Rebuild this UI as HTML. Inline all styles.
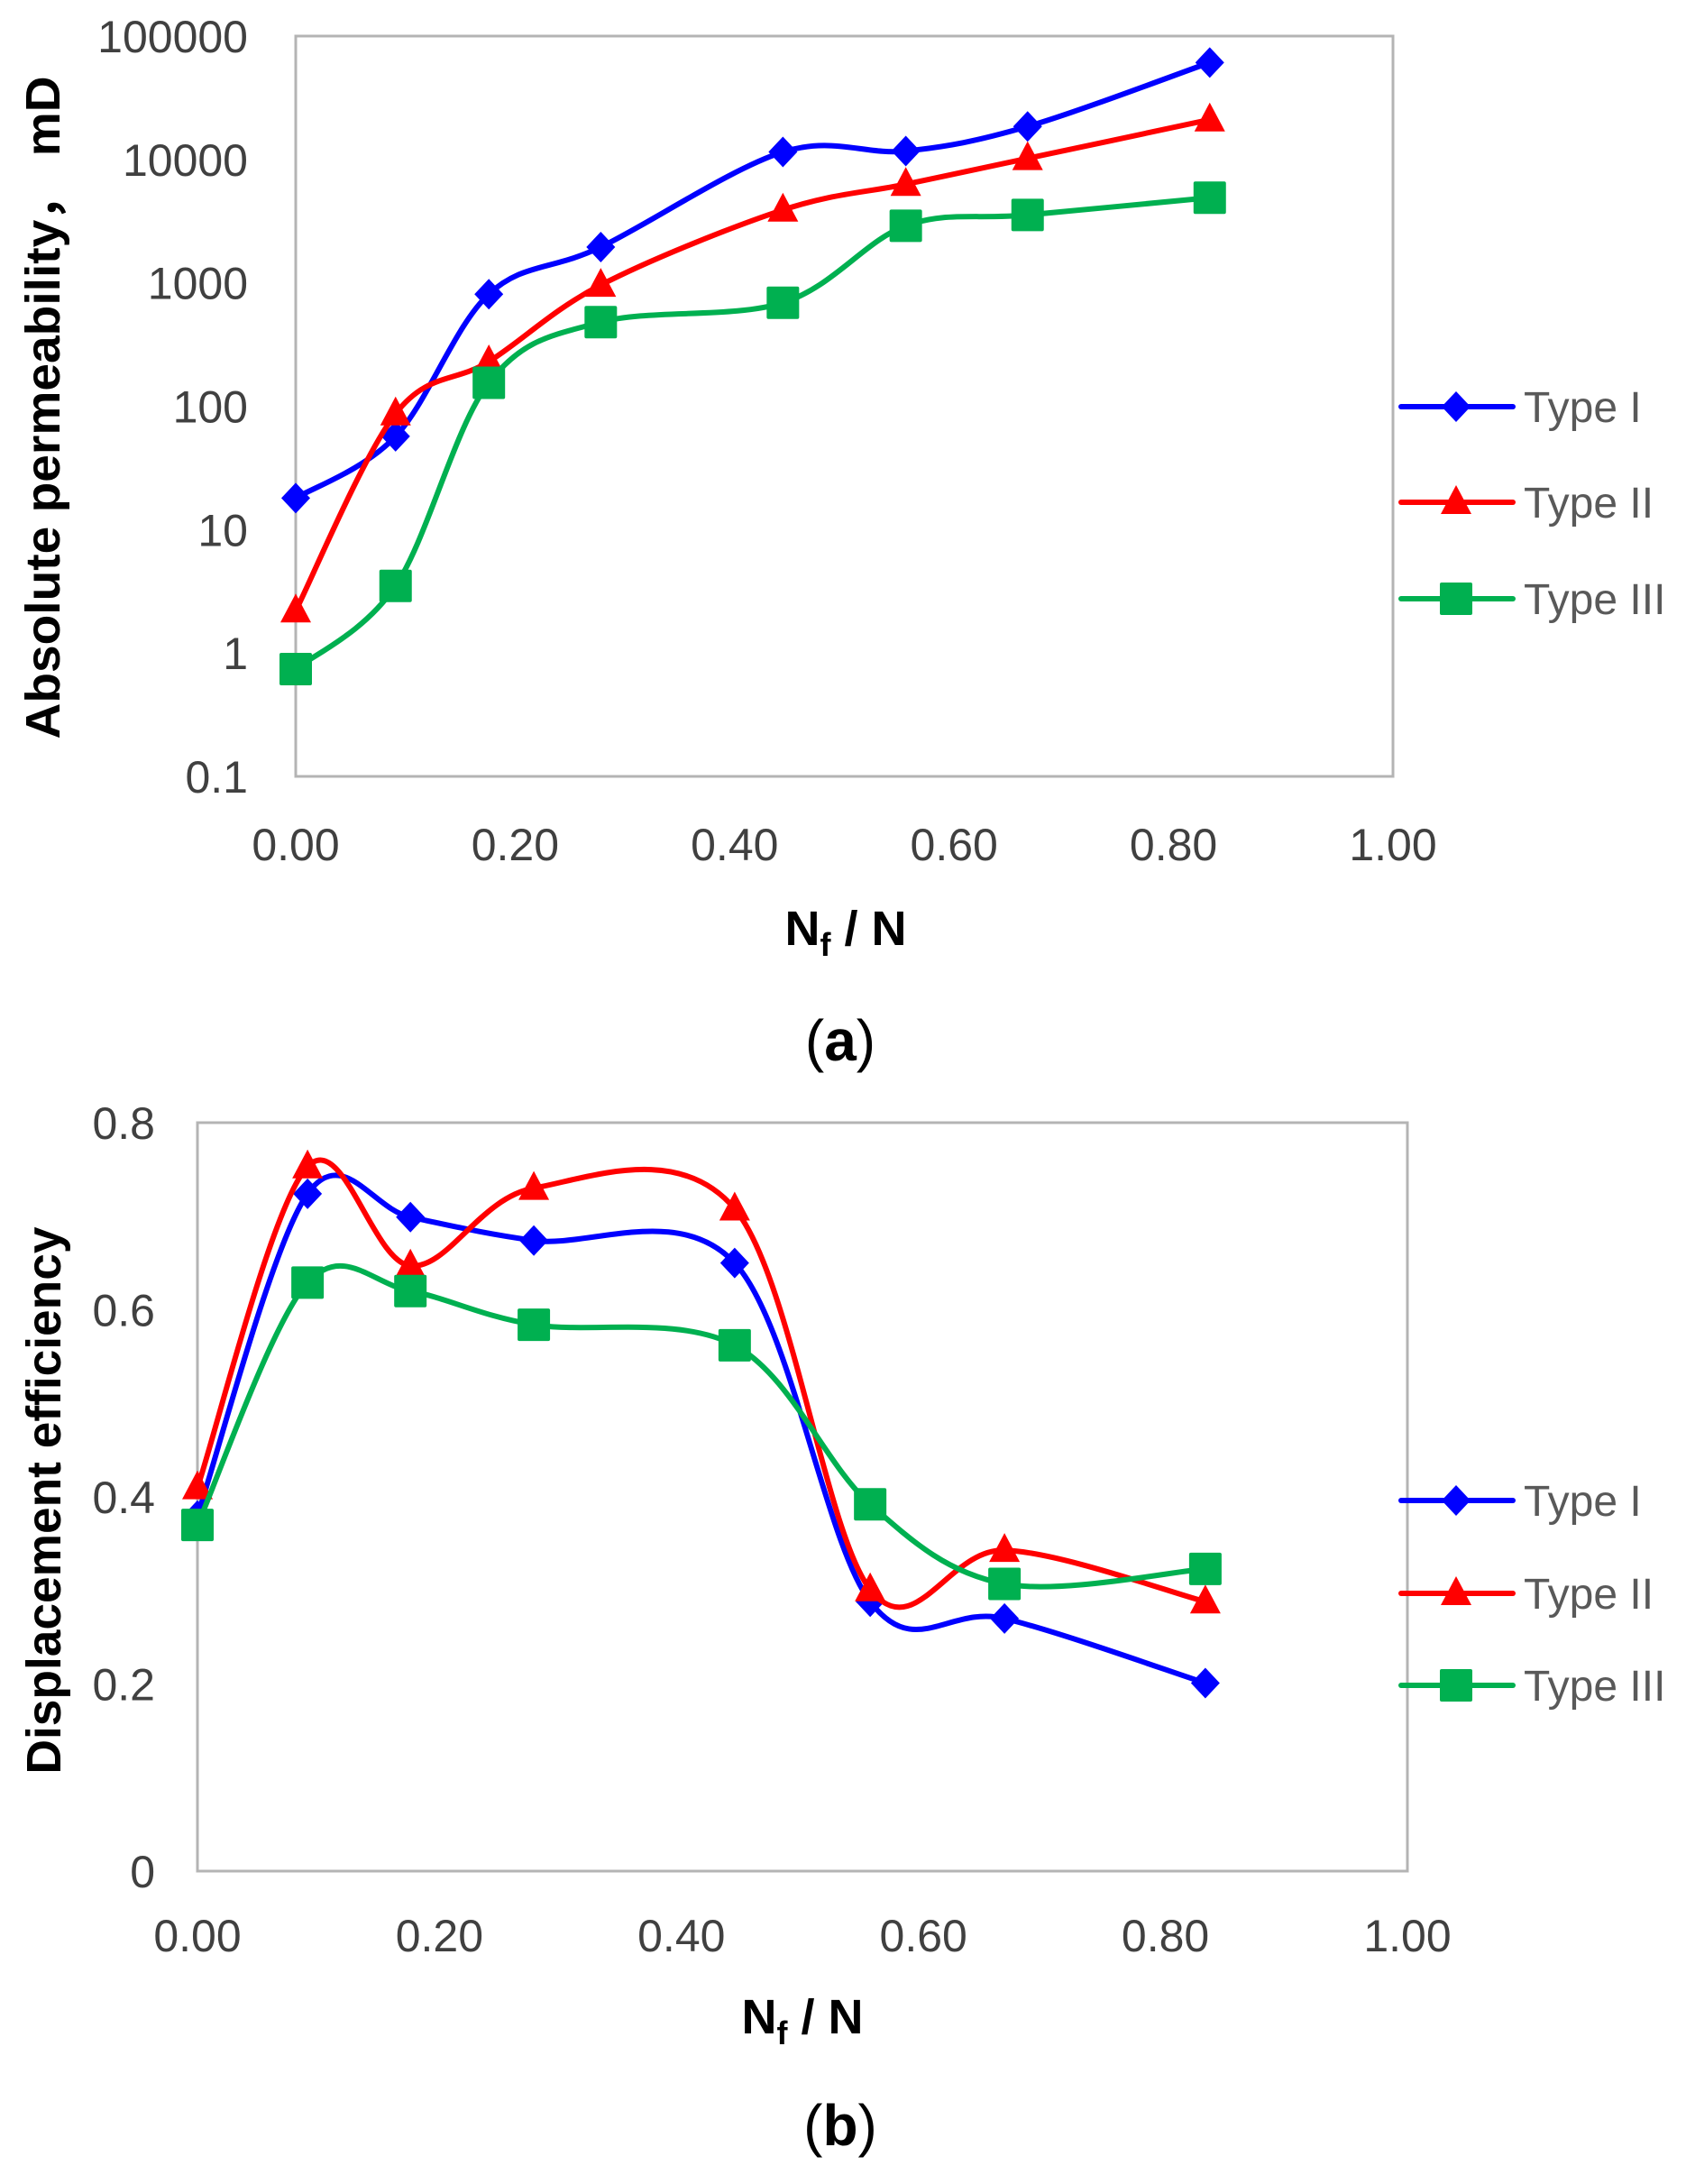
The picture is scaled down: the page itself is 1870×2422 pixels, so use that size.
<!DOCTYPE html>
<html><head><meta charset="utf-8">
<style>
html,body{margin:0;padding:0;background:#fff;}
svg{display:block;}
text{font-family:"Liberation Sans",sans-serif;}
</style></head>
<body>
<svg id="fig" width="1870" height="2422" viewBox="0 0 1870 2422" xmlns="http://www.w3.org/2000/svg">
<g id="chartA"></g>
<g id="chartB"></g>
</svg>
<script>
const xCats = [0, 0.091, 0.176, 0.278, 0.444, 0.556, 0.667, 0.833];
const permTypeI = [18, 57, 810, 1950, 11500, 11700, 18500, 61000];
const permTypeII = [2.2, 87, 230, 960, 3900, 6300, 10200, 21000];
const permTypeIII = [0.74, 3.5, 155, 480, 690, 2900, 3550, 4900];
const effTypeI = [0.38, 0.724, 0.699, 0.674, 0.65, 0.288, 0.27, 0.201];
const effTypeII = [0.41, 0.753, 0.647, 0.73, 0.708, 0.301, 0.343, 0.288];
const effTypeIII = [0.37, 0.629, 0.62, 0.584, 0.562, 0.392, 0.307, 0.323];
const xTickLabels = ["0.00","0.20","0.40","0.60","0.80","1.00"];
const xTickValues = [0,0.2,0.4,0.6,0.8,1.0];
const logTickLabels = ["0.1","1","10","100","1000","10000","100000"];
const logTickValues = [0.1,1,10,100,1000,10000,100000];
const linTickLabels = ["0","0.2","0.4","0.6","0.8"];
const linTickValues = [0,0.2,0.4,0.6,0.8];
const seriesNames = ["Type I","Type II","Type III"];

const NS = "http://www.w3.org/2000/svg";
function mk(parent, tag, attrs){
  const e = document.createElementNS(NS, tag);
  for (const k in attrs) e.setAttribute(k, attrs[k]);
  parent.appendChild(e);
  return e;
}
const colors = ["#0000ff","#ff0000","#00b050"];
const shapes = ["diamond","triangle","square"];

function marker(g, shape, cx, cy, color){
  let m;
  if (shape==="diamond"){
    m = mk(g,"polygon",{points:`${cx},${cy-17} ${cx+16},${cy} ${cx},${cy+17} ${cx-16},${cy}`,fill:color});
  } else if (shape==="triangle"){
    m = mk(g,"polygon",{points:`${cx},${cy-19} ${cx+17},${cy+13} ${cx-17},${cy+13}`,fill:color});
  } else {
    m = mk(g,"rect",{x:cx-18,y:cy-18,width:36,height:36,rx:2,fill:color});
  }
  return m;
}
function smoothPath(pts){
  let d = `M${pts[0][0]},${pts[0][1]}`;
  for (let i=0;i<pts.length-1;i++){
    const p0 = pts[i-1]||pts[i], p1=pts[i], p2=pts[i+1], p3=pts[i+2]||pts[i+1];
    const c1x = p1[0]+(p2[0]-p0[0])/6, c1y = p1[1]+(p2[1]-p0[1])/6;
    const c2x = p2[0]-(p3[0]-p1[0])/6, c2y = p2[1]-(p3[1]-p1[1])/6;
    d += ` C${c1x},${c1y} ${c2x},${c2y} ${p2[0]},${p2[1]}`;
  }
  return d;
}

function drawChart(g, cfg){
  const {L,R,T,B,yScale,yTickVals,yTickLabs,series,yTitle,yTitleLen,yTitleX,yTitleY,xTickY,xTitleX,xTitleY,cap,capX,capY,legY,yLabRight} = cfg;
  const xS = v => L + v*(R-L);
  const frame = mk(g,"rect",{x:L,y:T,width:R-L,height:B-T,fill:"none",stroke:"#b4b4b4","stroke-width":3});
  
  
  yTickVals.forEach((v,i)=>{
    const t = mk(g,"text",{x:yLabRight,y:yScale(v)+18,"text-anchor":"end","font-size":50,fill:"#404040"});
    t.textContent = yTickLabs[i];
    
    
  });
  xTickValues.forEach((v,i)=>{
    const t = mk(g,"text",{x:xS(v),y:xTickY+18,"text-anchor":"middle","font-size":50,fill:"#404040"});
    t.textContent = xTickLabels[i];
    
    
  });
  const yt = mk(g,"text",{x:0,y:0,transform:`translate(${yTitleX},${yTitleY}) rotate(-90)`,"text-anchor":"middle","font-size":54,"font-weight":"bold",fill:"#000",textLength:yTitleLen,lengthAdjust:"spacingAndGlyphs"});
  yt.textContent = yTitle;
  
  
  const xt = mk(g,"text",{x:xTitleX,y:xTitleY+19,"text-anchor":"middle","font-size":54,"font-weight":"bold",fill:"#000"});
  xt.innerHTML = 'N<tspan font-size="36" dy="12">f</tspan><tspan dy="-12"> / N</tspan>';
  
  
  const ct = mk(g,"text",{x:capX,y:capY+20,"text-anchor":"middle","font-size":64,"font-family":"Liberation Serif, serif",fill:"#000"});
  ct.innerHTML = '(<tspan font-weight="bold">'+cap+'</tspan>)';
  
  
  series.forEach((vals,si)=>{
    const sg = mk(g,"g",{});
    
    
    const pts = vals.map((v,i)=>[xS(xCats[i]), yScale(v)]);
    const p = mk(sg,"path",{d:smoothPath(pts),fill:"none",stroke:colors[si],"stroke-width":6,"stroke-linejoin":"round"});
    
    
    pts.forEach(pt=>{
      const m = marker(sg, shapes[si], pt[0], pt[1], colors[si]);
      
      
    });
    const lg = mk(g,"g",{});
    
    
    const y = legY[si];
    mk(lg,"line",{x1:1554,y1:y,x2:1678,y2:y,stroke:colors[si],"stroke-width":6,"stroke-linecap":"round"});
    marker(lg, shapes[si], 1615, y, colors[si]);
    const lt = mk(lg,"text",{x:1690,y:y+17,"font-size":48,fill:"#595959"});
    lt.textContent = seriesNames[si];
  });
}

const aT=40, aB=861;
const logY = v => aT + (5 - Math.log10(v)) * (aB-aT)/6;
drawChart(document.getElementById('chartA'), {
  L:328,R:1545,T:aT,B:aB,yScale:logY,yTickVals:logTickValues,yTickLabs:logTickLabels,
  series:[permTypeI,permTypeII,permTypeIII],yTitle:"Absolute permeability，  mD",yTitleLen:735,
  yTitleX:66,yTitleY:452,xTickY:936,xTitleX:938,xTitleY:1029,cap:"a",capX:932,capY:1156,
  legY:[451,557,664],yLabRight:275
});
const bT=1245, bB=2075;
const linY = v => bB - v/0.8*(bB-bT);
drawChart(document.getElementById('chartB'), {
  L:219,R:1561,T:bT,B:bB,yScale:linY,yTickVals:linTickValues,yTickLabs:linTickLabels,
  series:[effTypeI,effTypeII,effTypeIII],yTitle:"Displacement efficiency",yTitleLen:607,
  yTitleX:67,yTitleY:1664,xTickY:2146,xTitleX:890,xTitleY:2236,cap:"b",capX:932,capY:2359,
  legY:[1664,1767,1869],yLabRight:172
});
</script>
</body></html>
